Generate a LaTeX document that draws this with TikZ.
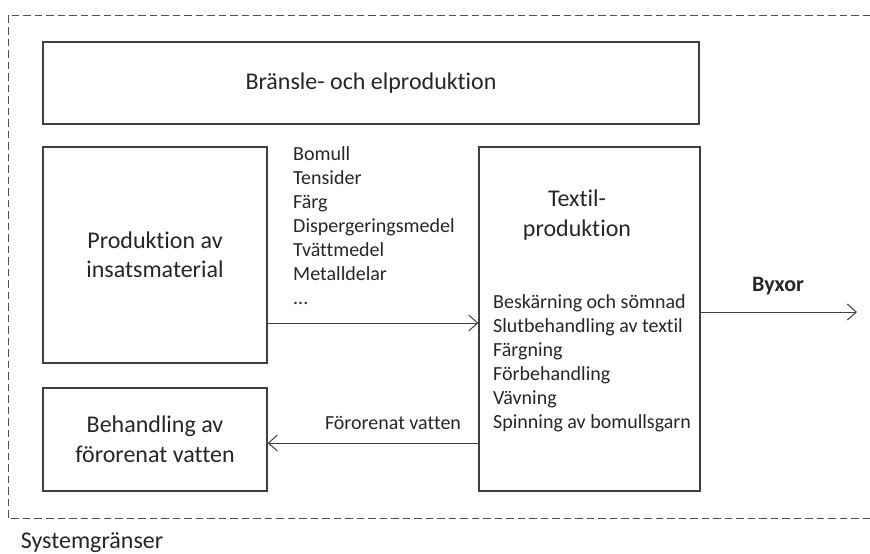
\documentclass[tikz,border=0pt]{standalone}
\usepackage{fontspec}
\setmainfont{Carlito}[RawFeature={-liga}]
\usetikzlibrary{arrows.meta}
\definecolor{linec}{HTML}{404040}
\definecolor{txt}{HTML}{262626}
\definecolor{dashc}{HTML}{505050}
\begin{document}
\begin{tikzpicture}[x=1pt,y=-1pt,
  box/.style={draw=linec, line width=1.3pt, inner sep=0pt, text=txt, align=center, font=\fontsize{24}{29.5}\selectfont},
  bigtext/.style={text=txt, inner sep=0pt, align=center, font=\fontsize{24}{30}\selectfont},
  listtext/.style={text=txt, inner sep=0pt, align=left, anchor=west, font=\fontsize{20}{24}\selectfont},
  lbl/.style={text=txt, inner sep=0pt, font=\fontsize{20}{24}\selectfont},
  arr/.style={draw=linec, line width=1pt, -{Straight Barb[length=9pt, width=16pt, line width=1pt]}},
  boundary/.style={draw=dashc, line width=1pt, dash pattern=on 7.5pt off 4pt}]
\useasboundingbox (0,0) rectangle (870,554);
\draw[boundary] (870,15) -- (8,15) -- (8,518) -- (870,518);
\node[box, minimum width=656pt, minimum height=82pt] (fuel) at (371,83) {Bränsle- och elproduktion};
\node[box, minimum width=224pt, minimum height=216pt] (input) at (155,255) {Produktion av\\insatsmaterial};
\node[box, minimum width=224pt, minimum height=103pt] (water) at (155,439.5) {Behandling av\\förorenat vatten};
\node[box, minimum width=221pt, minimum height=344pt] (textil) at (589.5,319) {};
\node[bigtext] (textiltitle) at (577,215) {Textil-\\produktion};
\node[listtext] (inputs) at (293,225.5) {Bomull\\Tensider\\Färg\\Dispergeringsmedel\\Tvättmedel\\Metalldelar\\...};
\node[listtext] (steps) at (493,363) {Beskärning och sömnad\\Slutbehandling av textil\\Färgning\\Förbehandling\\Vävning\\Spinning av bomullsgarn};
\coordinate (out) at (857,312);
\draw[arr] (input.east |- 0,323) -- (textil.west |- 0,323);
\draw[arr] (textil.east |- out) -- (out);
\draw[arr] (textil.west |- 0,443) -- (water.east |- 0,443);
\node[lbl, font=\fontsize{22}{26}\selectfont\bfseries] (byxor) at (778,286) {Byxor};
\node[lbl] (wlabel) at (393,423) {Förorenat vatten};
\node[lbl, font=\fontsize{24}{28}\selectfont] (sys) at (92,543) {Systemgränser};
\end{tikzpicture}
\end{document}
